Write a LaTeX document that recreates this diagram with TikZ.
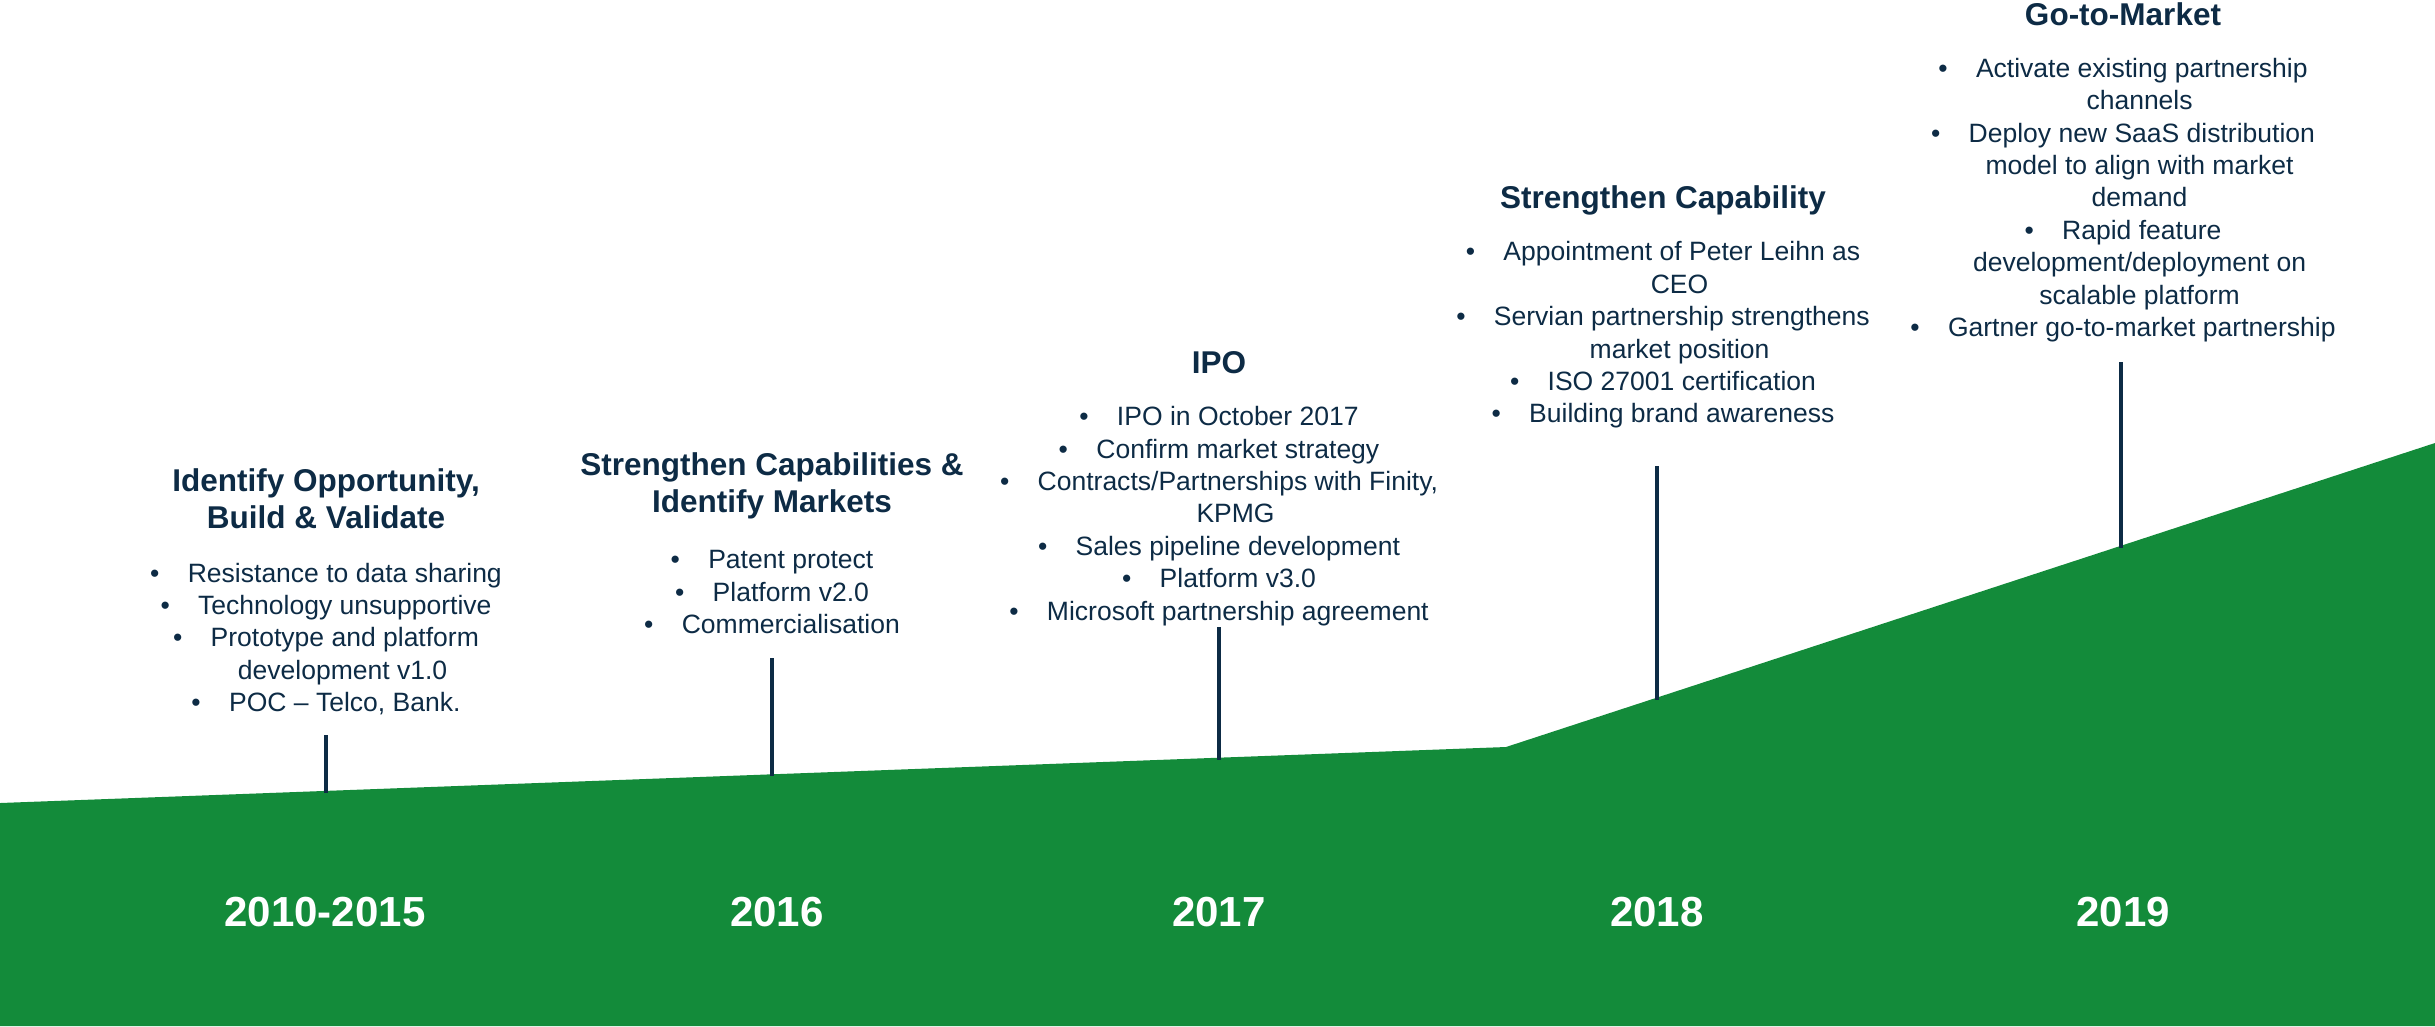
\documentclass[tikz,border=0pt]{standalone}
\usepackage{fontspec}
\setmainfont{Liberation Sans}
\usepackage{tikz}

\definecolor{tlgreen}{RGB}{19,139,58}
\definecolor{tlnavy}{RGB}{13,43,69}
\newcommand{\bl}{\textbullet\hspace{1.07em}}
\newcommand{\cont}{\hspace*{1.25em}}
\tikzset{
	phase/.style={font=\bfseries\fontsize{8.96}{10.4}\selectfont, text=tlnavy, align=center, inner sep=0pt},
	items/.style={font=\fontsize{7.54}{9.22}\selectfont, text=tlnavy, align=center, inner sep=0pt},
	year/.style={font=\bfseries\fontsize{11.95}{14}\selectfont, text=white, inner sep=0pt},
	stem/.style={draw=tlnavy, line width=1.3pt}
}

\begin{document}
\begin{tikzpicture}[x=0.01cm, y=-0.01cm]
		\useasboundingbox (0,0) rectangle (2435,1026);
		\fill[tlgreen] (0,803) -- (1506,747) -- (2435,443) -- (2435,1026) -- (0,1026) -- cycle;
		% stems down to the green slope
		\coordinate (t1) at (326,735);  \coordinate (g1) at (326,793);
		\coordinate (t2) at (772,658);  \coordinate (g2) at (772,776);
		\coordinate (t3) at (1219,627); \coordinate (g3) at (1219,760);
		\coordinate (t4) at (1657,466); \coordinate (g4) at (1657,700);
		\coordinate (t5) at (2121,362); \coordinate (g5) at (2121,548);
		\foreach \i in {1,...,5} \draw[stem] (t\i) -- (g\i);
		% phases
		\node[phase] (p1) at (326,499) {Identify Opportunity,\\Build \& Validate};
		\node[items] (l1) at (326,639) {\bl Resistance to data sharing\\
			\bl Technology unsupportive\\
			\bl Prototype and platform\\
			\cont development v1.0\\
			\bl POC -- Telco, Bank.};
		\node[phase] (p2) at (772,486) {Strengthen Capabilities \&\\Identify Markets};
		\node[items] (l2) at (772,592) {\bl Patent protect\\
			\bl Platform v2.0\\
			\bl Commercialisation};
		\node[phase] (p3) at (1219,363) {IPO};
		\node[items] (l3) at (1219,516) {\bl IPO in October 2017\\
			\bl Confirm market strategy\\
			\bl Contracts/Partnerships with Finity,\\
			\cont KPMG\\
			\bl Sales pipeline development\\
			\bl Platform v3.0\\
			\bl Microsoft partnership agreement};
		\node[phase] (p4) at (1663,200) {Strengthen Capability};
		\node[items] (l4) at (1663,335) {\bl Appointment of Peter Leihn as\\
			\cont CEO\\
			\bl Servian partnership strengthens\\
			\cont market position\\
			\bl ISO 27001 certification\\
			\bl Building brand awareness};
		\node[phase] (p5) at (2123,14) {Go-to-Market};
		\node[items] (l5) at (2123,200) {\bl Activate existing partnership\\
			\cont channels\\
			\bl Deploy new SaaS distribution\\
			\cont model to align with market\\
			\cont demand\\
			\bl Rapid feature\\
			\cont development/deployment on\\
			\cont scalable platform\\
			\bl Gartner go-to-market partnership};
		% years
		\node[year] (y1) at (325,912) {2010-2015};
		\node[year] (y2) at (777,912) {2016};
		\node[year] (y3) at (1219,912) {2017};
		\node[year] (y4) at (1657,912) {2018};
		\node[year] (y5) at (2123,912) {2019};
		\end{tikzpicture}
\end{document}
